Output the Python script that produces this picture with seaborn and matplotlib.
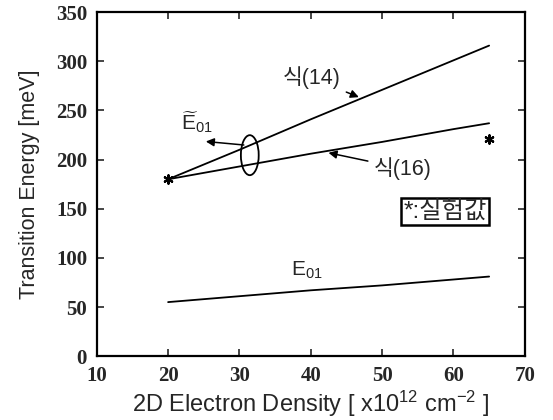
import matplotlib
matplotlib.use("Agg")
import matplotlib.pyplot as plt
import seaborn as sns
import pandas as pd
from matplotlib.patches import Ellipse

# ---- data ----
density = [20, 30, 40, 50, 60, 65]
eq14 = [180, 210, 241, 271, 301, 316]
eq16 = [180, 193, 206, 218, 231, 237]
e01 = [55, 61, 67, 72, 78, 81]
exp_x = [20, 65]
exp_y = [180, 221]
xticks = [10, 20, 30, 40, 50, 60, 70]
yticks = [0, 50, 100, 150, 200, 250, 300, 350]

sns.set_style("ticks")
plt.rcParams["mathtext.fontset"] = "custom"
plt.rcParams["mathtext.rm"] = "Liberation Sans"
plt.rcParams["mathtext.it"] = "Liberation Sans"
plt.rcParams["font.family"] = ["Liberation Sans", "Noto Sans CJK KR", "DejaVu Sans"]

fig = plt.figure(figsize=(5.53, 4.2), dpi=100)
ax = fig.add_axes([0.175, 0.152, 0.774, 0.819])

df = pd.DataFrame({"x": density, "eq14": eq14, "eq16": eq16, "e01": e01})
for col in ["eq14", "eq16", "e01"]:
    sns.lineplot(data=df, x="x", y=col, ax=ax, color="black", lw=1.3)
sns.scatterplot(x=exp_x, y=exp_y, ax=ax, marker=(6, 2, 0), s=36,
                color="black", linewidth=1.6, edgecolor="black", zorder=5)

ax.set_xlim(10, 70)
ax.set_ylim(0, 350)
ax.set_xticks(xticks)
ax.set_yticks(yticks)
ax.tick_params(direction="in", top=True, right=True, length=5, width=1.2,
               labelsize=15, pad=7)
for lab in ax.get_xticklabels() + ax.get_yticklabels():
    lab.set_fontfamily("Liberation Serif")
    lab.set_fontweight("bold")
for s in ax.spines.values():
    s.set_linewidth(1.6)
    s.set_color("black")

ax.set_xlabel("2D Electron Density [ x10$^{12}$ cm$^{-2}$ ]", fontsize=17)
ax.set_ylabel("Transition Energy [meV]", fontsize=15.5)
ax.xaxis.set_label_coords(0.5, -0.095)
ax.yaxis.set_label_coords(-0.133, 0.5)

ap = dict(arrowstyle="-|>", color="black", lw=1.1, mutation_scale=12)
kr = ["Liberation Sans", "Noto Sans CJK KR"]
ax.annotate("식(14)", xy=(47.1, 262.5), xytext=(40.1, 283), fontsize=15.5,
            ha="center", va="center", family=kr, arrowprops=ap)
ax.annotate("식(16)", xy=(42.1, 207.5), xytext=(52.9, 191), fontsize=15.5,
            ha="center", va="center", family=kr, arrowprops=ap)
ax.annotate("", xy=(24.9, 218.7), xytext=(31.0, 214.6), arrowprops=ap)
ax.text(24.0, 238, r"$\widetilde{\mathrm{E}}_{01}$", fontsize=15,
        ha="center", va="center")
ax.add_patch(Ellipse((31.45, 204.5), 2.5, 40.7, fill=False, ec="black", lw=1.3))
ax.text(39.4, 87.5, r"$\mathrm{E}_{01}$", fontsize=15, ha="center", va="center")
ax.text(58.8, 147.5, "*:실험값", fontsize=17.5, ha="center", va="center", family=kr,
        bbox=dict(boxstyle="square,pad=0.1", fc="white", ec="black", lw=1.8))

fig.savefig("out.png", dpi=100)
